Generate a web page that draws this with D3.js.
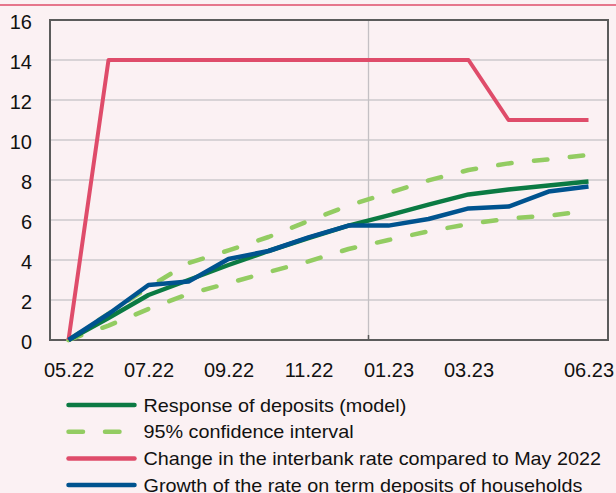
<!DOCTYPE html>
<html>
<head>
<meta charset="utf-8">
<script src="https://cdn.jsdelivr.net/npm/d3@7/dist/d3.min.js"></script>
<style>
  html, body { margin: 0; padding: 0; background: #FBF1F3; }
  svg { display: block; font-family: "Liberation Sans", Arial, sans-serif; }
</style>
</head>
<body>
<svg id="chart" width="616" height="493"></svg>
<script>
// Months shown on the horizontal axis (May 2022 – June 2023)
const months = ["05.22","06.22","07.22","08.22","09.22","10.22","11.22","12.22",
                "01.23","02.23","03.23","04.23","05.23","06.23"];
const monthLabels = ["05.22","07.22","09.22","11.22","01.23","03.23","06.23"];
const yTicks = [0, 2, 4, 6, 8, 10, 12, 14, 16];

// Series, percentage points
const modelResponse = [0, 1.1, 2.25, 3.0, 3.75, 4.45, 5.1, 5.72, 6.23, 6.77, 7.28, 7.53, 7.72, 7.92];
const ciUpper       = [0, 1.32, 2.63, 3.85, 4.48, 5.15, 5.95, 6.72, 7.35, 7.98, 8.5, 8.83, 9.03, 9.25];
const ciLower       = [0, 0.72, 1.55, 2.3, 2.84, 3.4, 3.93, 4.55, 5.0, 5.43, 5.8, 6.07, 6.22, 6.45];
const interbankChange = [0, 14, 14, 14, 14, 14, 14, 14, 14, 14, 14, 11, 11, 11];
const termDepositRate = [0, 1.3, 2.75, 2.92, 4.05, 4.45, 5.13, 5.72, 5.72, 6.05, 6.58, 6.67, 7.42, 7.67];

const legendItems = [
  { label: "Response of deposits (model)", color: "#0B7A43", dashed: false },
  { label: "95% confidence interval", color: "#93CC62", dashed: true },
  { label: "Change in the interbank rate compared to May 2022", color: "#DF4C6A", dashed: false },
  { label: "Growth of the rate on term deposits of households", color: "#00538F", dashed: false }
];

const svg = d3.select("#chart");
const W = 616;
const plot = { left: 50, right: 608, top: 20, bottom: 340 };

// rule under the (cropped) heading
svg.append("line")
  .attr("x1", 0).attr("x2", W).attr("y1", 5).attr("y2", 5)
  .attr("stroke", "#DF4C6A").attr("stroke-width", 1.6);

const x = d3.scalePoint().domain(months).range([68.5, 588.5]);
const y = d3.scaleLinear().domain([0, 16]).range([plot.bottom, plot.top]);

// horizontal gridlines
svg.append("g")
  .selectAll("line")
  .data(yTicks.filter(v => v > 0 && v < 16))
  .join("line")
  .attr("x1", plot.left).attr("x2", plot.right)
  .attr("y1", d => y(d)).attr("y2", d => y(d))
  .attr("stroke", "#CDC9CD").attr("stroke-width", 1.5);

// year separator between 12.22 and 01.23
const sepX = (x("12.22") + x("01.23")) / 2;
svg.append("line")
  .attr("x1", sepX).attr("x2", sepX)
  .attr("y1", plot.top).attr("y2", plot.bottom)
  .attr("stroke", "#C4C0C4").attr("stroke-width", 1.3);
svg.append("line")
  .attr("x1", sepX).attr("x2", sepX)
  .attr("y1", plot.bottom - 5).attr("y2", plot.bottom)
  .attr("stroke", "#5B5B5B").attr("stroke-width", 1.5);

// plot frame
svg.append("rect")
  .attr("x", plot.left).attr("y", plot.top)
  .attr("width", plot.right - plot.left).attr("height", plot.bottom - plot.top)
  .attr("fill", "none").attr("stroke", "#5B5B5B").attr("stroke-width", 2);

// axes
const yAxis = svg.append("g")
  .attr("transform", `translate(${plot.left},0)`)
  .call(d3.axisLeft(y).tickValues(yTicks).tickSize(0).tickPadding(18));
yAxis.select(".domain").remove();
yAxis.selectAll("text")
  .attr("dy", "0.42em")
  .attr("fill", "#111")
  .style("font-size", "20px")
  .style("font-family", "'Liberation Sans', Arial, sans-serif");

const xAxis = svg.append("g")
  .attr("transform", `translate(0,${plot.bottom})`)
  .call(d3.axisBottom(x).tickValues(monthLabels).tickSize(0).tickPadding(23));
xAxis.select(".domain").remove();
xAxis.selectAll("text")
  .attr("fill", "#111")
  .style("font-size", "20px")
  .style("font-family", "'Liberation Sans', Arial, sans-serif");

// series
const line = d3.line().x((d, i) => x(months[i])).y(d => y(d));
const series = [
  { data: ciUpper, color: "#93CC62", width: 4.5, dash: "13.5,22.5" },
  { data: ciLower, color: "#93CC62", width: 4.5, dash: "13.5,22.5" },
  { data: modelResponse, color: "#0B7A43", width: 4.5, dash: null },
  { data: interbankChange, color: "#DF4C6A", width: 4, dash: null },
  { data: termDepositRate, color: "#00538F", width: 4.5, dash: null }
];
svg.append("g")
  .selectAll("path")
  .data(series)
  .join("path")
  .attr("d", d => line(d.data))
  .attr("fill", "none")
  .attr("stroke", d => d.color)
  .attr("stroke-width", d => d.width)
  .attr("stroke-linejoin", "round")
  .attr("stroke-linecap", d => d.dash ? "round" : "butt")
  .attr("stroke-dasharray", d => d.dash);

// legend
const legend = svg.append("g");
const rowY = i => 405 + i * 26.7;
legend.selectAll("line")
  .data(legendItems)
  .join("line")
  .attr("x1", 68.5).attr("x2", d => d.dashed ? 137 : 134.5)
  .attr("y1", (d, i) => rowY(i)).attr("y2", (d, i) => rowY(i))
  .attr("stroke", d => d.color)
  .attr("stroke-width", 4.5)
  .attr("stroke-linecap", "round")
  .attr("stroke-dasharray", d => d.dashed ? "14.5,22" : null);
legend.selectAll("text")
  .data(legendItems)
  .join("text")
  .attr("transform", (d, i) => `translate(143.5,${rowY(i) + 6.5}) scale(1.1,1)`)
  .attr("fill", "#111")
  .style("font-size", "18px")
  .text(d => d.label);
</script>
</body>
</html>
